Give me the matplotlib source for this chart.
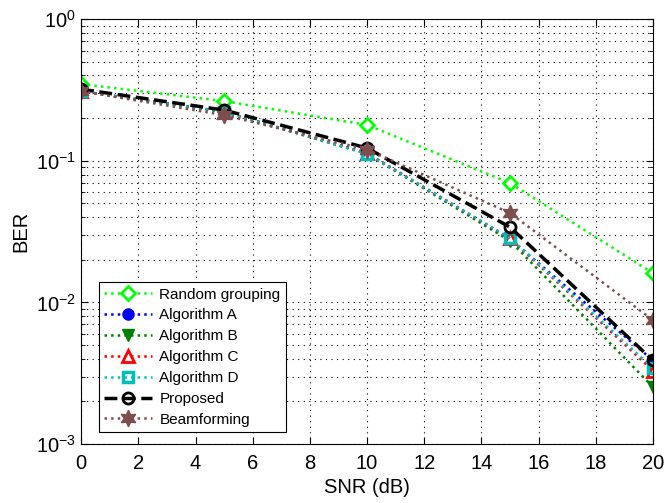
import numpy as np
import matplotlib.pyplot as plt
from matplotlib.ticker import LogLocator, NullFormatter

plt.rcParams['font.family'] = ['Liberation Sans', 'DejaVu Sans']
plt.rcParams['mathtext.fontset'] = 'custom'
plt.rcParams['mathtext.rm'] = 'Liberation Sans'
plt.rcParams['mathtext.it'] = 'Liberation Sans:italic'
plt.rcParams['mathtext.bf'] = 'Liberation Sans:bold'

# SNR points (dB)
snr = [0, 5, 10, 15, 20]

# BER curves for each scheme
ber_random = [0.348, 0.264, 0.179, 0.0696, 0.0161]
ber_alg_a = [0.31, 0.222, 0.113, 0.0280, 0.0039]
ber_alg_b = [0.31, 0.221, 0.112, 0.0272, 0.00253]
ber_alg_c = [0.31, 0.222, 0.113, 0.0283, 0.0033]
ber_alg_d = [0.31, 0.222, 0.112, 0.0285, 0.00344]
ber_proposed = [0.32, 0.228, 0.123, 0.034, 0.0039]
ber_beam = [0.31, 0.21, 0.12, 0.0428, 0.0075]

fig = plt.figure(figsize=(6.65, 5.03), dpi=100)
ax = fig.add_axes([0.122, 0.117, 0.860, 0.845])

lw = 1.8
ms = 8
brown = (0.5, 0.3, 0.3)
ax.semilogy(snr, ber_random, ':', color=(0, 1, 0), lw=lw, marker='D', ms=7,
            mfc='white', mec=(0, 1, 0), mew=2, label='Random grouping')
ax.semilogy(snr, ber_alg_a, ':', color=(0, 0, 1), lw=lw, marker='o', ms=ms,
            mfc=(0, 0, 1), mec=(0, 0, 1), label='Algorithm A')
ax.semilogy(snr, ber_alg_b, ':', color=(0, 0.5, 0), lw=lw, marker='v', ms=ms + 1,
            mfc=(0, 0.5, 0), mec=(0, 0.5, 0), label='Algorithm B')
ax.semilogy(snr, ber_alg_c, ':', color=(1, 0, 0), lw=lw, marker='^', ms=ms + 1,
            mfc='white', mec=(1, 0, 0), mew=2, label='Algorithm C')
ax.semilogy(snr, ber_alg_d, ':', color=(0, 0.75, 0.75), lw=lw, marker='s', ms=ms - 1,
            mfc='none', mec=(0, 0.75, 0.75), mew=2.5, label='Algorithm D')
ax.semilogy(snr, ber_proposed, '--', color='black', lw=2.5, marker='o', ms=ms,
            mfc='none', mec='black', mew=2, label='Proposed')
ax.semilogy(snr, ber_beam, ':', color=brown, lw=lw, marker=(6, 1, 0), ms=12,
            mfc=brown, mec=brown, label='Beamforming')

ax.set_xlim(0, 20)
ax.set_ylim(1e-3, 1)
ax.set_xticks(np.arange(0, 21, 2))
ax.yaxis.set_major_locator(LogLocator(base=10))
ax.yaxis.set_minor_locator(LogLocator(base=10, subs=np.arange(2, 10)))
ax.yaxis.set_minor_formatter(NullFormatter())

ax.grid(True, which='major', linestyle=(0, (1, 4)), color='black', lw=0.8)
ax.grid(True, which='minor', axis='y', linestyle=(0, (1, 4)), color='black', lw=0.8)

ax.tick_params(which='both', direction='in', top=True, right=True, labelsize=14.5)
ax.tick_params(which='major', length=5)
ax.tick_params(which='minor', length=3)
ax.tick_params(axis='x', pad=7)
for s in ax.spines.values():
    s.set_linewidth(0.8)

ax.set_xlabel('SNR (dB)', fontsize=14.5, labelpad=4)
ax.set_ylabel('BER', fontsize=14.5, labelpad=4)

leg = ax.legend(loc='lower left', bbox_to_anchor=(18 / 572, 12 / 425), borderaxespad=0,
                fontsize=11, fancybox=False, framealpha=1, edgecolor='black',
                handlelength=3.1, labelspacing=0.45, borderpad=0.35, handletextpad=0.5)
leg.get_frame().set_linewidth(0.8)

fig.savefig('out.png', dpi=100)
